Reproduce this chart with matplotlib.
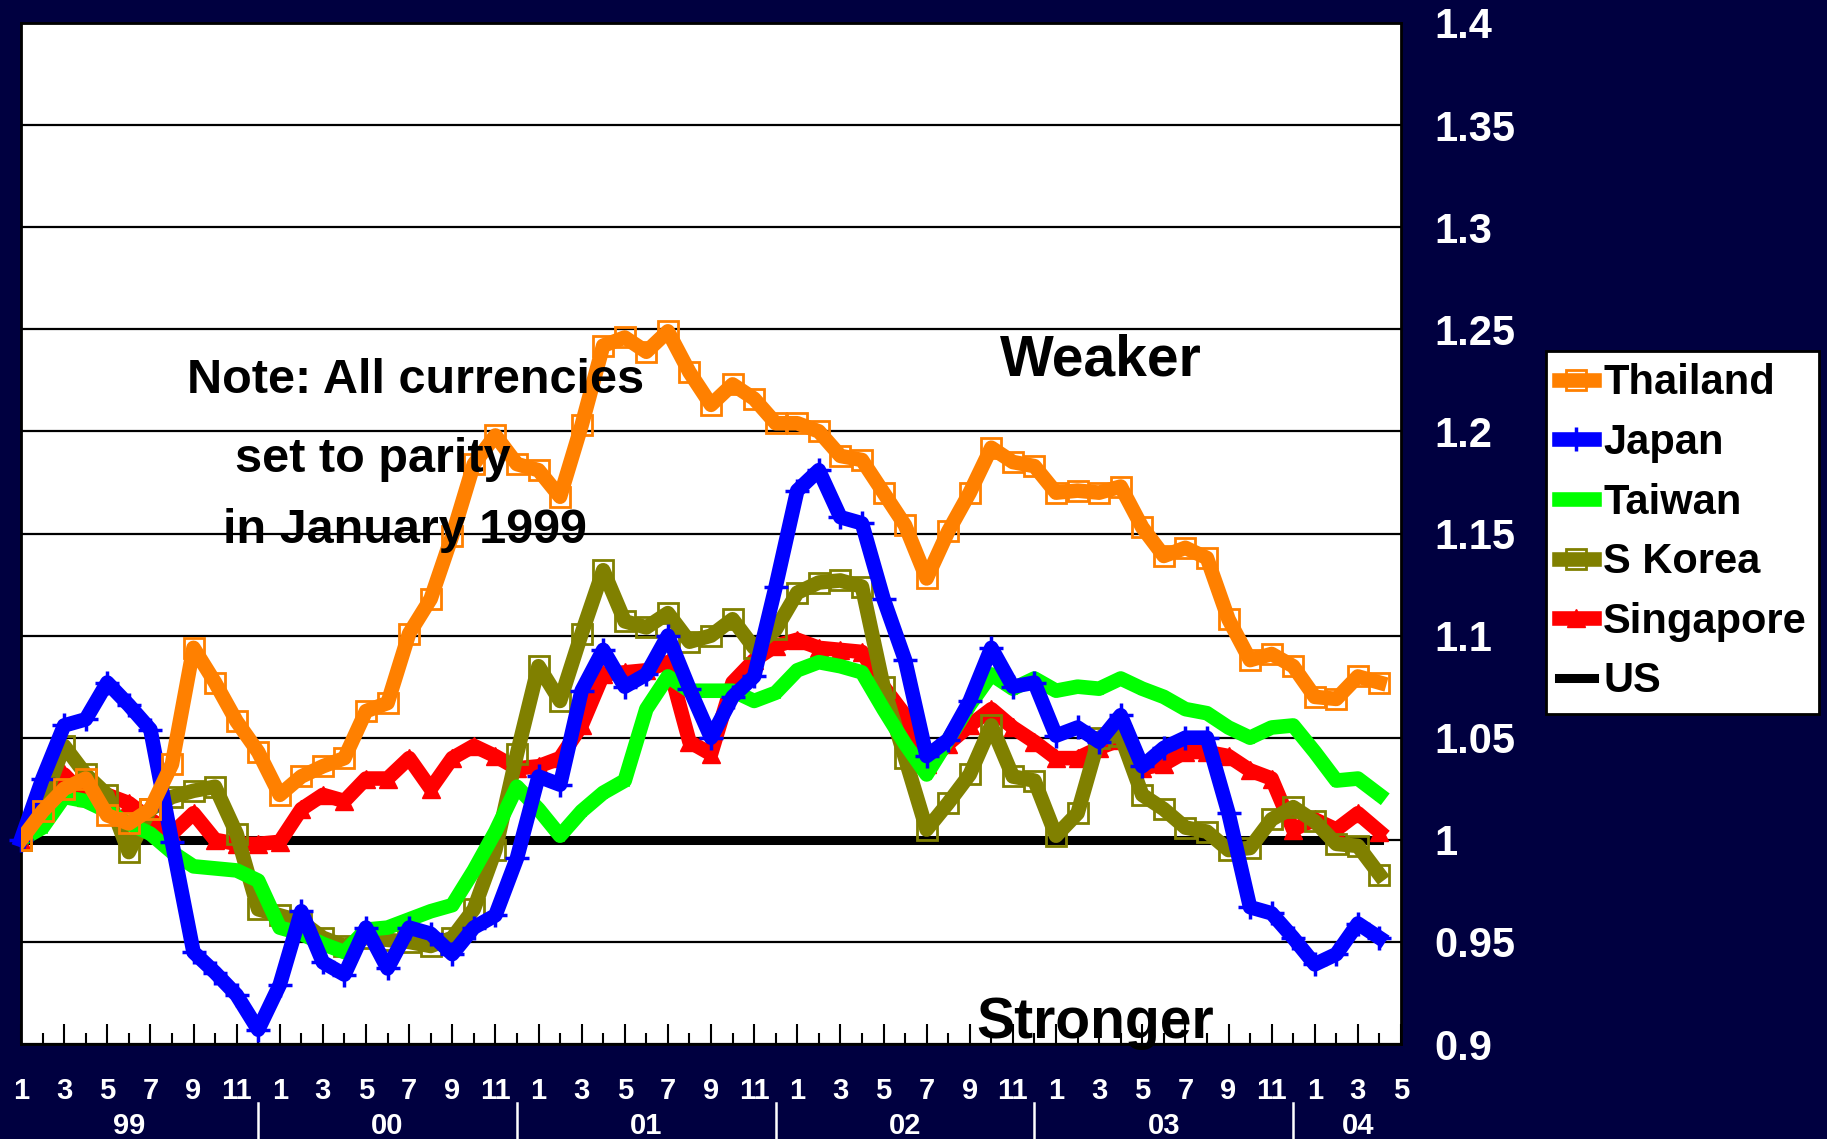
import numpy as np
import matplotlib
matplotlib.use("Agg")
import matplotlib.pyplot as plt

W, H = 1827, 1139
BG = "#000040"

# monthly index values, Jan 1999 .. Apr 2004 (all currencies = 1 in Jan 1999)
thailand = [1.000, 1.014, 1.025, 1.030, 1.012, 1.008, 1.015, 1.037, 1.094, 1.077, 1.058, 1.043,
            1.022, 1.031, 1.036, 1.040, 1.063, 1.067, 1.101, 1.118, 1.149, 1.184, 1.198, 1.184,
            1.181, 1.168, 1.203, 1.242, 1.246, 1.239, 1.249, 1.229, 1.213, 1.223, 1.216, 1.204,
            1.204, 1.200, 1.188, 1.186, 1.170, 1.154, 1.128, 1.151, 1.170, 1.192, 1.185, 1.183,
            1.170, 1.171, 1.170, 1.173, 1.153, 1.139, 1.143, 1.138, 1.108, 1.088, 1.091, 1.085,
            1.070, 1.069, 1.080, 1.077]
japan = [1.000, 1.030, 1.056, 1.059, 1.077, 1.066, 1.054, 0.999, 0.945, 0.935, 0.924, 0.907,
         0.929, 0.965, 0.940, 0.934, 0.957, 0.937, 0.957, 0.954, 0.944, 0.957, 0.963, 0.991,
         1.031, 1.027, 1.073, 1.093, 1.075, 1.081, 1.100, 1.074, 1.050, 1.070, 1.080, 1.124,
         1.171, 1.181, 1.158, 1.155, 1.118, 1.088, 1.041, 1.049, 1.068, 1.094, 1.075, 1.077,
         1.051, 1.055, 1.048, 1.061, 1.036, 1.045, 1.050, 1.050, 1.013, 0.967, 0.964, 0.952,
         0.939, 0.944, 0.959, 0.952]
taiwan = [1.000, 1.006, 1.021, 1.019, 1.014, 1.008, 1.003, 0.994, 0.987, 0.986, 0.985, 0.980,
          0.957, 0.954, 0.949, 0.945, 0.956, 0.957, 0.961, 0.965, 0.968, 0.985, 1.004, 1.026,
          1.015, 1.002, 1.014, 1.023, 1.029, 1.064, 1.080, 1.073, 1.073, 1.073, 1.068, 1.072,
          1.083, 1.087, 1.085, 1.082, 1.064, 1.047, 1.032, 1.049, 1.066, 1.081, 1.074, 1.079,
          1.073, 1.075, 1.074, 1.079, 1.074, 1.070, 1.064, 1.062, 1.055, 1.050, 1.055, 1.056,
          1.043, 1.029, 1.030, 1.022]
skorea = [1.000, 1.018, 1.046, 1.032, 1.022, 0.994, 1.015, 1.021, 1.024, 1.026, 1.003, 0.966,
          0.963, 0.960, 0.952, 0.948, 0.952, 0.951, 0.950, 0.948, 0.952, 0.966, 0.995, 1.042,
          1.085, 1.068, 1.101, 1.132, 1.107, 1.104, 1.111, 1.097, 1.100, 1.108, 1.094, 1.103,
          1.121, 1.126, 1.127, 1.124, 1.075, 1.040, 1.005, 1.018, 1.032, 1.056, 1.031, 1.029,
          1.002, 1.013, 1.050, 1.051, 1.022, 1.015, 1.006, 1.004, 0.995, 0.996, 1.010, 1.016,
          1.009, 0.998, 0.997, 0.983]
singapore = [1.000, 1.018, 1.032, 1.021, 1.022, 1.018, 1.010, 1.003, 1.013, 1.000, 0.998, 0.998,
             0.999, 1.015, 1.022, 1.019, 1.030, 1.030, 1.040, 1.025, 1.040, 1.046, 1.041, 1.035,
             1.036, 1.040, 1.056, 1.081, 1.082, 1.083, 1.087, 1.048, 1.042, 1.077, 1.088, 1.095,
             1.098, 1.094, 1.093, 1.092, 1.075, 1.061, 1.037, 1.047, 1.056, 1.064, 1.055, 1.048,
             1.040, 1.040, 1.045, 1.049, 1.035, 1.037, 1.043, 1.043, 1.041, 1.034, 1.030, 1.005,
             1.010, 1.005, 1.013, 1.004]
us = [1.0] * 64

year_labels = ["99", "00", "01", "02", "03", "04"]
year_pos = [5, 17, 29, 41, 53, 62]
year_breaks = [11, 23, 35, 47, 59]
y_ticks = [0.9, 0.95, 1.0, 1.05, 1.1, 1.15, 1.2, 1.25, 1.3, 1.35, 1.4]

plt.rcParams['font.family'] = ['Liberation Sans', 'DejaVu Sans']
plt.rcParams['font.weight'] = 'bold'

fig = plt.figure(figsize=(W / 100, H / 100), dpi=100, facecolor=BG)
ax = fig.add_axes([21 / W, 95 / H, 1380 / W, 1021 / H])
ax.set_facecolor("white")

x = np.arange(len(thailand))
lw = 10.5
h = {}
h['US'], = ax.plot(x, us, color='black', lw=6.5, zorder=2)
h['Singapore'], = ax.plot(x, singapore, color='#ff0000', lw=lw, marker='^', ms=13, zorder=3)
h['S Korea'], = ax.plot(x, skorea, color='#808000', lw=lw, marker='s', ms=15, mfc='none',
                        mec='#808000', mew=2, zorder=4)
h['Taiwan'], = ax.plot(x, taiwan, color='#00ff00', lw=lw, marker='*', ms=9, zorder=5)
h['Japan'], = ax.plot(x, japan, color='#0000ff', lw=lw, marker='+', ms=17, mew=2.5,
                      zorder=6, clip_on=False)
h['Thailand'], = ax.plot(x, thailand, color='#ff8000', lw=lw, marker='s', ms=15, mfc='none',
                         mec='#ff8000', mew=2, zorder=7)

ax.set_xlim(0, 64)
ax.set_ylim(0.9, 1.4)

# y axis on the right, white labels
ax.yaxis.tick_right()
ax.set_yticks(y_ticks)
ax.set_yticklabels([f"{v:g}" for v in y_ticks], fontweight='bold')
ax.tick_params(axis='y', length=0, pad=24, labelsize=30, labelcolor='white')
ax.grid(axis='y', color='black', lw=1.6, zorder=1)

# x axis: month ticks
major = list(range(0, 65, 2))
ax.set_xticks(major)
ax.set_xticklabels([str(i % 12 + 1) for i in major], fontweight='bold')
ax.set_xticks(range(1, 64, 2), minor=True)
ax.tick_params(axis='x', which='major', direction='in', length=14.5, width=1.5,
               color='black', labelcolor='white', labelsize=21, pad=24)
ax.tick_params(axis='x', which='minor', direction='in', length=8, width=1.5, color='black')
for s in ax.spines.values():
    s.set_color('black')
    s.set_linewidth(2)

trans = ax.get_xaxis_transform()
for lab, p in zip(year_labels, year_pos):
    ax.text(p, -0.080, lab, transform=trans, ha='center', va='center', color='white',
            fontsize=21, fontweight='bold')
for b in year_breaks:
    ax.plot([b, b], [-0.058, -0.093], transform=trans, color='white', lw=1.8, clip_on=False)

# annotations
fig.text(187 / W, 1 - 393 / H, "Note: All currencies", fontsize=35, fontweight='bold',
         va='baseline', ha='left', zorder=10)
fig.text(235 / W, 1 - 472 / H, "set to parity", fontsize=35, fontweight='bold',
         va='baseline', ha='left', zorder=10)
fig.text(223 / W, 1 - 543 / H, "in January 1999", fontsize=35, fontweight='bold',
         va='baseline', ha='left', zorder=10)
fig.text(1000 / W, 1 - 375 / H, "Weaker", fontsize=41, fontweight='bold',
         va='baseline', ha='left', zorder=10)
fig.text(976 / W, 1 - 1038 / H, "Stronger", fontsize=41, fontweight='bold',
         va='baseline', ha='left', zorder=10)

order = ['Thailand', 'Japan', 'Taiwan', 'S Korea', 'Singapore', 'US']
leg = fig.legend([h[k] for k in order], order, loc='upper left',
                 bbox_to_anchor=(1546 / W, 1 - 351 / H), bbox_transform=fig.transFigure,
                 prop={'size': 30, 'weight': 'bold'}, frameon=True, fancybox=False,
                 framealpha=1, edgecolor='black', facecolor='white', borderaxespad=0,
                 borderpad=0.3, labelspacing=0.47, handlelength=0.85, handletextpad=0.22,
                 numpoints=1)
leg.get_frame().set_linewidth(2)

fig.savefig("out.png", dpi=100, facecolor=BG)
